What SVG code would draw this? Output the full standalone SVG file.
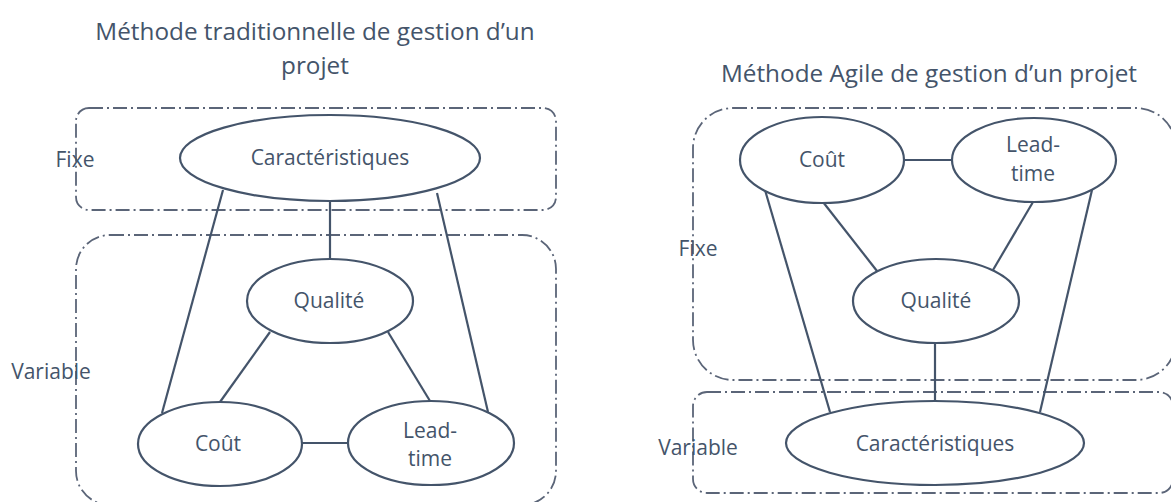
<svg xmlns="http://www.w3.org/2000/svg" width="1171" height="502" viewBox="0 0 1171 502">
<style>
  text { font-family: "Open Sans", "Noto Sans", "DejaVu Sans", sans-serif; fill: #44546A; text-anchor: middle; }
  .title { font-size: 24.3px; }
  .lbl { font-size: 21px; }
  .node ellipse { fill: #ffffff; stroke: #44546A; stroke-width: 2.2; }
  .zone { fill: none; stroke: #5B6578; stroke-width: 1.8; stroke-dasharray: 14 4 2 4; }
  #connectors line { stroke: #44546A; stroke-width: 2.2; }
</style>
<rect width="1171" height="502" fill="#ffffff"/>

<!-- Left: traditional -->
<g id="title-left">
  <text class="title" x="315" y="40">Méthode traditionnelle de gestion d’un</text>
  <text class="title" x="315" y="74">projet</text>
</g>
<g id="zone-left-fixe">
  <rect class="zone" x="76" y="108" width="480" height="102" rx="13" ry="13"/>
  <text class="lbl" x="75" y="167">Fixe</text>
</g>
<g id="zone-left-variable">
  <rect class="zone" x="76" y="235" width="480" height="270" rx="34" ry="34"/>
  <text class="lbl" x="51" y="379">Variable</text>
</g>

<!-- Right: agile -->
<g id="title-right">
  <text class="title" x="929" y="82">Méthode Agile de gestion d’un projet</text>
</g>
<g id="zone-right-fixe">
  <rect class="zone" x="693" y="108" width="483" height="272" rx="40" ry="40"/>
  <text class="lbl" x="698" y="256">Fixe</text>
</g>
<g id="zone-right-variable">
  <rect class="zone" x="693" y="392" width="480" height="101" rx="14" ry="14"/>
  <text class="lbl" x="698" y="455">Variable</text>
</g>

<g id="connectors">
  <!-- left -->
  <line x1="330" y1="201" x2="330" y2="259"/>
  <line x1="223" y1="190" x2="162" y2="413"/>
  <line x1="437" y1="193" x2="488" y2="412"/>
  <line x1="270" y1="332" x2="220" y2="402"/>
  <line x1="388" y1="332" x2="430" y2="401"/>
  <line x1="302" y1="443" x2="348" y2="443"/>
  <!-- right -->
  <line x1="904" y1="160" x2="952" y2="160"/>
  <line x1="823" y1="202" x2="877" y2="271"/>
  <line x1="1033" y1="202" x2="993" y2="270"/>
  <line x1="765" y1="190" x2="830" y2="412"/>
  <line x1="1092" y1="190" x2="1040" y2="412"/>
  <line x1="935" y1="343" x2="935" y2="402"/>
</g>

<!-- Left nodes -->
<g id="l-caracteristiques" class="node">
  <ellipse cx="330" cy="158" rx="150" ry="43"/>
  <text class="lbl" x="330" y="165">Caractéristiques</text>
</g>
<g id="l-qualite" class="node">
  <ellipse cx="330" cy="301" rx="83" ry="42"/>
  <text class="lbl" x="329" y="308">Qualité</text>
</g>
<g id="l-cout" class="node">
  <ellipse cx="220" cy="444" rx="82" ry="42"/>
  <text class="lbl" x="218" y="451">Coût</text>
</g>
<g id="l-leadtime" class="node">
  <ellipse cx="431" cy="443" rx="83" ry="42"/>
  <text class="lbl" x="430" y="438">Lead-</text>
  <text class="lbl" x="430" y="466">time</text>
</g>

<!-- Right nodes -->
<g id="r-cout" class="node">
  <ellipse cx="822" cy="160" rx="82" ry="43"/>
  <text class="lbl" x="822" y="167">Coût</text>
</g>
<g id="r-leadtime" class="node">
  <ellipse cx="1034" cy="160" rx="82" ry="42"/>
  <text class="lbl" x="1033" y="152">Lead-</text>
  <text class="lbl" x="1033" y="181">time</text>
</g>
<g id="r-qualite" class="node">
  <ellipse cx="936" cy="301" rx="83" ry="42"/>
  <text class="lbl" x="936" y="308">Qualité</text>
</g>
<g id="r-caracteristiques" class="node">
  <ellipse cx="935" cy="443" rx="149" ry="42"/>
  <text class="lbl" x="935" y="451">Caractéristiques</text>
</g>
</svg>
